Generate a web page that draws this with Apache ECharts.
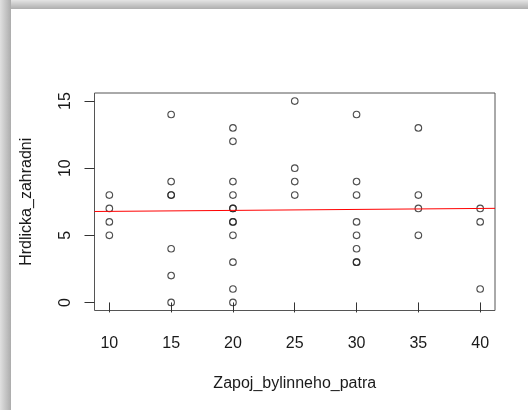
<!DOCTYPE html>
<html>
<head>
<meta charset="utf-8">
<script src="https://cdn.jsdelivr.net/npm/echarts@6/dist/echarts.min.js"></script>
<style>
  html, body { margin: 0; padding: 0; background: #fff; }
  #chart { width: 528px; height: 410px; }
</style>
</head>
<body>
<div id="chart"></div>
<script>
// Observations: canopy cover of the herb layer (x) vs. collared dove counts (y)
const zapoj = [
  10, 10, 10, 10,
  15, 15, 15, 15, 15, 15, 15,
  20, 20, 20, 20, 20, 20, 20, 20, 20, 20, 20, 20,
  25, 25, 25, 25,
  30, 30, 30, 30, 30, 30, 30, 30,
  35, 35, 35, 35,
  40, 40, 40
];
const hrdlicka = [
  8, 7, 6, 5,
  14, 9, 8, 8, 4, 2, 0,
  13, 12, 9, 8, 7, 7, 6, 6, 5, 3, 1, 0,
  15, 10, 9, 8,
  14, 9, 8, 6, 5, 4, 3, 3,
  13, 8, 7, 5,
  7, 6, 1
];
const xTicks = [10, 15, 20, 25, 30, 35, 40];
const yTicks = [0, 5, 10, 15];
const xRange = [8.8, 41.2];
const yRange = [-0.6, 15.6];

// least-squares fit, drawn across the whole plotting region like abline(lm(...))
function fitLine(xs, ys) {
  const n = xs.length;
  const mx = xs.reduce((a, b) => a + b, 0) / n;
  const my = ys.reduce((a, b) => a + b, 0) / n;
  let sxy = 0, sxx = 0;
  for (let i = 0; i < n; i++) {
    sxy += (xs[i] - mx) * (ys[i] - my);
    sxx += (xs[i] - mx) * (xs[i] - mx);
  }
  const b = sxy / sxx;
  return { a: my - b * mx, b: b };
}
const fit = fitLine(zapoj, hrdlicka);
const fitPoints = xRange.map(x => [x, fit.a + fit.b * x]);
const points = zapoj.map((x, i) => [x, hrdlicka[i]]);

const font = 'Liberation Sans, Arial, Helvetica, sans-serif';
const ink = '#1a1a1a';

const chart = echarts.init(document.getElementById('chart'), null, { renderer: 'canvas' });
chart.setOption({
  animation: false,
  backgroundColor: '#ffffff',
  textStyle: { fontFamily: font },
  graphic: [
    {
      type: 'rect', z: -10, silent: true,
      shape: { x: 0, y: 0, width: 528, height: 9 },
      style: {
        fill: new echarts.graphic.LinearGradient(0, 0, 0, 1, [
          { offset: 0, color: '#e4e4e4' },
          { offset: 1, color: '#aeaeae' }
        ])
      }
    },
    {
      type: 'rect', z: -10, silent: true,
      shape: { x: 0, y: 0, width: 11, height: 410 },
      style: {
        fill: new echarts.graphic.LinearGradient(0, 0, 1, 0, [
          { offset: 0, color: '#e0e0e0' },
          { offset: 1, color: '#acacac' }
        ])
      }
    }
  ],
  grid: {
    left: 94.5, top: 93, width: 400.5, height: 217.5,
    show: true, borderColor: '#555', borderWidth: 1,
    backgroundColor: 'transparent'
  },
  xAxis: {
    type: 'value',
    min: xRange[0], max: xRange[1],
    name: 'Zapoj_bylinneho_patra',
    nameLocation: 'middle',
    nameGap: 65,
    nameTextStyle: { fontSize: 16, color: ink, fontFamily: font },
    axisLine: { show: false },
    splitLine: { show: false },
    axisTick: {
      show: true, length: 10, inside: false,
      customValues: xTicks,
      lineStyle: { color: '#333', width: 1 }
    },
    axisLabel: {
      customValues: xTicks,
      fontSize: 16, color: ink, fontFamily: font, margin: 25
    }
  },
  yAxis: {
    type: 'value',
    min: yRange[0], max: yRange[1],
    name: 'Hrdlicka_zahradni',
    nameLocation: 'middle',
    nameGap: 60,
    nameTextStyle: { fontSize: 16, color: ink, fontFamily: font },
    axisLine: { show: false },
    splitLine: { show: false },
    axisTick: {
      show: true, length: 10, inside: false,
      customValues: yTicks,
      lineStyle: { color: '#333', width: 1 }
    },
    axisLabel: {
      customValues: yTicks,
      rotate: 90,
      fontSize: 16, color: ink, fontFamily: font, margin: 21
    }
  },
  series: [
    {
      type: 'scatter',
      data: points,
      symbol: 'circle',
      symbolSize: 6.6,
      itemStyle: { color: 'rgba(0,0,0,0)', borderColor: '#222', borderWidth: 1.1 },
      z: 2
    },
    {
      type: 'line',
      data: fitPoints,
      showSymbol: false,
      lineStyle: { color: '#ff0000', width: 1 },
      z: 3
    }
  ]
});
</script>
</body>
</html>
